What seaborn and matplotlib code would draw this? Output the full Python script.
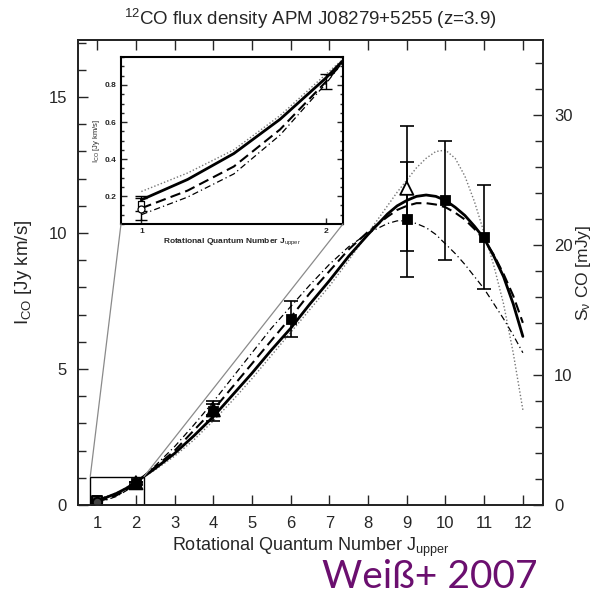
import numpy as np
import pandas as pd
import matplotlib
matplotlib.use("Agg")
import matplotlib.pyplot as plt
import seaborn as sns
from matplotlib.patches import Rectangle, ConnectionPatch
from matplotlib.ticker import MultipleLocator, FixedLocator

# ---------------- data ----------------
J_grid = [1, 1.25, 1.5, 1.75, 2, 2.5, 3, 3.5, 4, 4.5, 5, 5.5, 6, 6.5, 7, 7.5,
          8, 8.5, 8.75, 9, 9.25, 9.5, 9.75, 10, 10.25, 10.5, 10.75, 11, 11.25,
          11.5, 11.75, 12]
model_solid = [0.18, 0.29, 0.43, 0.615, 0.84, 1.35, 1.9, 2.55, 3.25, 4.05, 4.85, 5.7,
               6.5, 7.4, 8.25, 9.15, 9.95, 10.7, 11.0, 11.2, 11.35, 11.4, 11.35, 11.2,
               10.95, 10.65, 10.25, 9.8, 9.15, 8.4, 7.4, 6.2]
model_dashed = [0.135, 0.23, 0.36, 0.56, 0.82, 1.4, 2.0, 2.75, 3.5, 4.35, 5.2, 6.05,
                6.9, 7.8, 8.6, 9.4, 10.05, 10.6, 10.85, 11.0, 11.1, 11.1, 11.05, 10.95,
                10.75, 10.5, 10.15, 9.75, 9.2, 8.5, 7.7, 6.7]
model_dashdot = [0.10, 0.195, 0.32, 0.53, 0.81, 1.45, 2.15, 2.95, 3.8, 4.7, 5.6, 6.5,
                 7.3, 8.1, 8.85, 9.5, 10.0, 10.35, 10.45, 10.45, 10.35, 10.2, 9.95, 9.6,
                 9.25, 8.85, 8.4, 7.95, 7.4, 6.85, 6.25, 5.6]
model_dotted = [0.225, 0.325, 0.45, 0.635, 0.86, 1.3, 1.8, 2.4, 3.1, 3.85, 4.65, 5.5,
                6.35, 7.2, 8.05, 9.0, 10.0, 11.0, 11.5, 11.95, 12.4, 12.75, 13.0, 13.05,
                12.75, 12.1, 11.15, 10.0, 8.8, 7.4, 5.6, 3.5]

sq_J = [2, 4, 6, 9, 10, 11]
sq_I = [0.80, 3.45, 6.85, 10.5, 11.2, 9.85]
sq_err = [0.05, 0.36, 0.66, 2.1, 2.2, 1.9]

tri_J = [2, 4, 9]
tri_I = [0.82, 3.5, 11.65]
tri_err = [0.04, 0.2, 2.3]
tri_open = [False, False, True]

j1_J = [1, 1]
j1_I = [0.16, 0.13]
j1_err = [0.04, 0.06]

x_ticks = list(range(1, 13))
left_ticks = [0, 5, 10, 15]
right_ticks = [0, 10, 20, 30]
inset_yticks = [0.2, 0.4, 0.6, 0.8]
inset_ylabels = ["0.2", "0.4", "0.6", "0.8"]

# ---------------- style ----------------
sns.set_theme(style="ticks")
plt.rcParams['font.family'] = ['Liberation Sans', 'DejaVu Sans']
plt.rcParams['mathtext.fontset'] = 'custom'
plt.rcParams['mathtext.rm'] = 'Liberation Sans'
plt.rcParams['mathtext.it'] = 'Liberation Sans'

fig = plt.figure(figsize=(5.99, 6.02), dpi=100)
ax = fig.add_axes([0.130, 0.161, 0.7765, 0.7726])

curves = pd.DataFrame({"J": J_grid, "solid": model_solid, "dashed": model_dashed,
                       "dashdot": model_dashdot, "dotted": model_dotted})

curve_styles = {
    "dotted": dict(color="#777777", lw=1.0, ls=(0, (1, 1.5))),
    "dashdot": dict(color="black", lw=0.9, ls=(0, (5, 2.5, 1, 2.5))),
    "dashed": dict(color="black", lw=1.5, ls=(0, (5, 2.5))),
    "solid": dict(color="black", lw=2.0, ls="-"),
}

def draw_curves(a):
    for name, st in curve_styles.items():
        sns.lineplot(data=curves, x="J", y=name, ax=a, color=st["color"],
                     linewidth=st["lw"], linestyle=st["ls"], legend=False)

def draw_points(a, ms=1.0, cap=5, elw=1.2):
    a.errorbar(sq_J, sq_I, yerr=sq_err, fmt="none", ecolor="black",
               elinewidth=elw, capsize=cap, capthick=elw, zorder=4)
    a.errorbar(tri_J, tri_I, yerr=tri_err, fmt="none", ecolor="black",
               elinewidth=elw, capsize=cap, capthick=elw, zorder=4)
    a.errorbar(j1_J, j1_I, yerr=j1_err, fmt="none", ecolor="black",
               elinewidth=elw, capsize=cap * 0.8, capthick=elw, zorder=4)
    sns.scatterplot(x=sq_J, y=sq_I, ax=a, marker="s", s=55 * ms, color="black",
                    edgecolor="black", zorder=5, legend=False)
    fc = ["white" if o else "black" for o in tri_open]
    a.scatter(tri_J, tri_I, marker="^", s=90 * ms, facecolors=fc,
              edgecolors="black", linewidths=1.3, zorder=6)
    a.scatter([j1_J[0]], [j1_I[0]], marker="s", s=45 * ms, facecolors="#444444",
              edgecolors="black", linewidths=1.4, zorder=6)
    a.scatter([j1_J[1]], [j1_I[1]], marker="o", s=45 * ms, facecolors="#444444",
              edgecolors="black", linewidths=1.4, zorder=6)

draw_curves(ax)
draw_points(ax)

ax.set_xlim(0.5, 12.52)
ax.set_ylim(0, 17.1)
ax.xaxis.set_major_locator(FixedLocator(x_ticks))
ax.yaxis.set_major_locator(FixedLocator(left_ticks))
ax.yaxis.set_minor_locator(MultipleLocator(1))
ax.tick_params(which="both", direction="in", top=True, right=False,
               width=1.0, labelsize=12, pad=8)
ax.tick_params(which="major", length=7)
ax.tick_params(which="minor", length=6)
for s in ax.spines.values():
    s.set_linewidth(1.2)
    s.set_color("black")
ax.set_xlabel("Rotational Quantum Number J$_{\\rm upper}$", fontsize=13, labelpad=3)
ax.set_ylabel("I$_{\\rm CO}$ [Jy km/s]", fontsize=13.5, labelpad=10)
ax.set_title("$^{12}$CO flux density APM J08279+5255 (z=3.9)", fontsize=13.5, pad=11)

ax2 = ax.twinx()
ax2.set_ylim(0, 35.8)
ax2.yaxis.set_major_locator(FixedLocator(right_ticks))
ax2.yaxis.set_minor_locator(MultipleLocator(2))
ax2.tick_params(which="both", direction="in", width=1.0, labelsize=12, pad=8)
ax2.tick_params(which="major", length=7)
ax2.tick_params(which="minor", length=6)
ax2.set_ylabel("S$_\\nu$ CO [mJy]", fontsize=12.5, labelpad=1)
for s in ax2.spines.values():
    s.set_linewidth(1.2)

# zoom box on main axes
box_x0, box_x1, box_top = 0.82, 2.21, 1.05
ax.add_patch(Rectangle((box_x0, 0), box_x1 - box_x0, box_top, fill=False,
                       edgecolor="black", lw=1.0, zorder=3))

# inset
axin = fig.add_axes([0.202, 0.628, 0.3706, 0.277])
draw_curves(axin)
axin.errorbar(sq_J[:1], [0.82], yerr=[0.04], fmt="none", ecolor="black",
              elinewidth=1.0, capsize=4, capthick=1.0)
axin.errorbar(j1_J, j1_I, yerr=j1_err, fmt="none", ecolor="black",
              elinewidth=1.0, capsize=4, capthick=1.0)
axin.scatter([j1_J[0]], [j1_I[0]], marker="s", s=25, facecolors="white",
             edgecolors="black", linewidths=0.9, zorder=6)
axin.scatter([j1_J[1]], [j1_I[1]], marker="o", s=25, facecolors="white",
             edgecolors="black", linewidths=0.9, zorder=6)
axin.set_xlim(0.89, 2.09)
axin.set_ylim(0.05, 0.95)
axin.xaxis.set_major_locator(FixedLocator([1, 2]))
axin.yaxis.set_major_locator(FixedLocator(inset_yticks))
axin.set_yticklabels(inset_ylabels)
axin.yaxis.set_minor_locator(MultipleLocator(0.05))
axin.tick_params(which="both", direction="in", right=True, top=False,
                 labelsize=6, pad=3, width=1.0)
axin.tick_params(which="major", length=4)
axin.tick_params(which="minor", length=2.5)
for lab in axin.get_xticklabels() + axin.get_yticklabels():
    lab.set_fontweight("bold")
axin.set_xlabel("Rotational Quantum Number J$_{\\rm upper}$", fontsize=6,
                fontweight="bold", labelpad=1)
axin.set_ylabel("I$_{\\rm CO}$ [Jy km/s]", fontsize=5.5, labelpad=2)
for s in axin.spines.values():
    s.set_linewidth(1.5)
    s.set_color("black")

for (xa, xb) in [((box_x0, box_top), (0, 0)), ((box_x1, box_top), (1, 0))]:
    cp = ConnectionPatch(xyA=xa, coordsA=ax.transData, xyB=xb,
                         coordsB=axin.transAxes, color="#8a8a8a", lw=0.9)
    fig.add_artist(cp)

fig.text(0.537, 0.042, "Weiß+ 2007", color="#6b0f6f", fontsize=28,
         family=["Lato", "DejaVu Sans"], ha="left", va="center")

fig.savefig("out.png", dpi=100)
